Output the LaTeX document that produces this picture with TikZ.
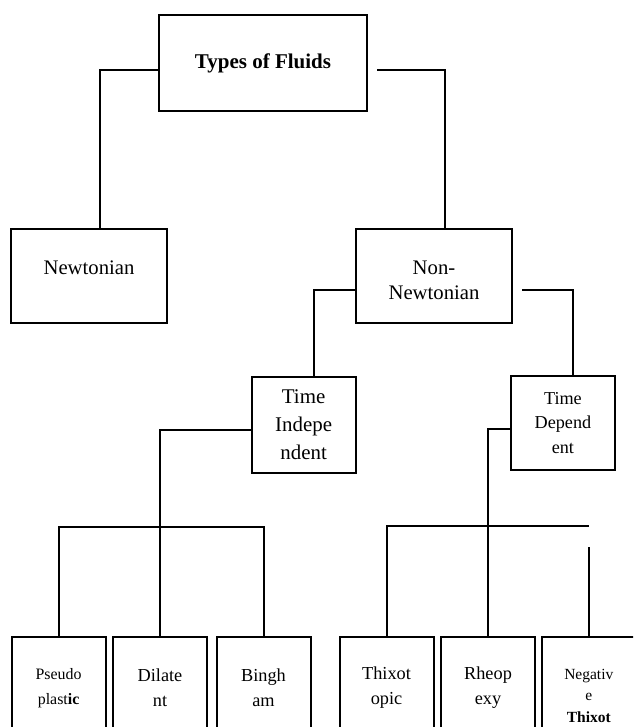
\documentclass[tikz,border=0pt]{standalone}
\usepackage{fontspec}
\setmainfont{Liberation Serif}

\begin{document}
\begin{tikzpicture}[x=1pt,y=-1pt,line width=2pt,
  box/.style={draw,align=center,inner sep=2pt},
  kind/.style={box,minimum width=156pt,minimum height=94pt,
    font=\fontsize{20.7}{25}\selectfont},
  timebox/.style={box,minimum width=104pt},
  leaf/.style={box,anchor=north,minimum width=94pt,minimum height=102pt,
    font=\fontsize{18.3}{25}\selectfont}]
  \useasboundingbox (0,0) rectangle (633,727);
  \clip (0,0) rectangle (633,727);

  % Root
  \node[box,minimum width=208pt,minimum height=96pt,
    font=\fontsize{21}{25}\selectfont\bfseries] (types) at (263,63) {Types of Fluids};

  % Newtonian / Non-Newtonian
  \node[kind,text depth=16pt] (newt) at (89,276) {Newtonian};
  \node[kind,text height=48pt] (nonnewt) at (434,276) {Non-\\Newtonian};

  % Time classes
  \node[timebox,minimum height=96pt,font=\fontsize{20.9}{28}\selectfont]
    (timeind) at (303.6,424.7) {Time\\Indepe\\ndent};
  \node[timebox,minimum height=94pt,font=\fontsize{18.2}{24.5}\selectfont]
    (timedep) at (562.9,423) {Time\\Depend\\ent};

  % Leaves
  \node[leaf,font=\fontsize{15.9}{25}\selectfont] (pseudo) at (58.6,636)
    {Pseudo\\plast\textbf{ic}};
  \node[leaf] (dilat) at (160,636) {Dilate\\nt};
  \node[leaf] (bingh) at (263.5,636) {Bingh\\am};
  \node[leaf] (thixo) at (386.5,636) {Thixot\\opic};
  \node[leaf] (rheo) at (488,636) {Rheop\\exy};
  \node[leaf,minimum height=117pt,font=\fontsize{15.5}{21.5}\selectfont]
    (negthix) at (588.8,636) {Negativ\\e\\\textbf{Thixot}};

  % Connectors
  \draw ([yshift=-7pt]types.west) -| ([xshift=11pt]newt.north);
  \draw ([xshift=9pt,yshift=-7pt]types.east) -| ([xshift=10.5pt]nonnewt.north);
  \draw ([yshift=-14pt]nonnewt.west) -| ([xshift=10.4pt]timeind.north);
  \draw ([xshift=9pt,yshift=-14pt]nonnewt.east) -| ([xshift=9.6pt]timedep.north);

  % Independent branch
  \coordinate (ibar) at (0,527);
  \draw ([yshift=-5pt]timeind.west) -| (dilat.north);
  \draw (pseudo.north) -- (pseudo.north |- ibar) -- (bingh.north |- ibar) -- (bingh.north);

  % Dependent branch
  \coordinate (dbar) at (0,526);
  \coordinate (dgap) at (0,547);
  \draw ([yshift=-6pt]timedep.west) -| (rheo.north);
  \draw (thixo.north) -- (thixo.north |- dbar) -- (negthix.north |- dbar);
  \draw (negthix.north) -- (negthix.north |- dgap);
\end{tikzpicture}
\end{document}
